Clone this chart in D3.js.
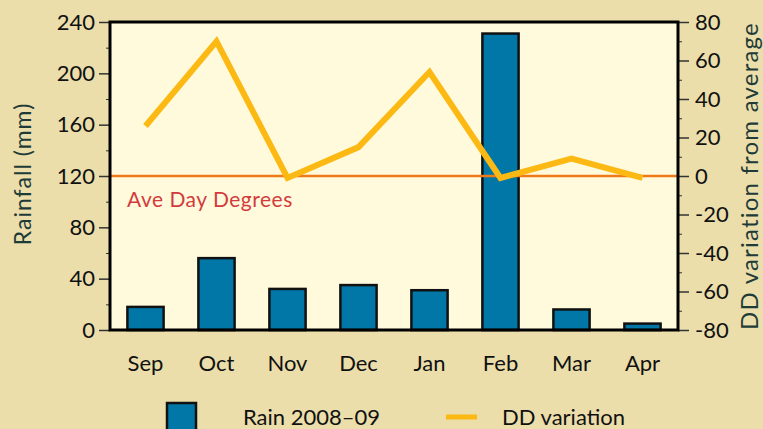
<!DOCTYPE html>
<html>
<head>
<meta charset="utf-8">
<script src="https://cdn.jsdelivr.net/npm/d3@7"></script>
<style>
  body { margin: 0; background: #ebdeaa; }
  svg { display: block; font-family: Lato, "Open Sans", sans-serif; }
</style>
</head>
<body>
<script>
const months = ["Sep", "Oct", "Nov", "Dec", "Jan", "Feb", "Mar", "Apr"];
const rain = [18, 56, 32, 35, 31, 231, 16, 5];
const ddVariation = [26, 70, -1, 15, 54, -1, 9, -1];
const rainTicks = [0, 40, 80, 120, 160, 200, 240];
const ddTicks = [-80, -60, -40, -20, 0, 20, 40, 60, 80];

const width = 763, height = 429;
const margin = {top: 22, right: 85, bottom: 99, left: 110};

const svg = d3.select("body").append("svg")
    .attr("width", width)
    .attr("height", height);

svg.append("rect").attr("width", width).attr("height", height).attr("fill", "#ebdeaa");

// title, mostly off the top edge
svg.append("text")
    .attr("x", 392).attr("y", -4)
    .attr("text-anchor", "middle")
    .attr("font-size", 22)
    .attr("fill", "#8c2f1f")
    .text("Monthly rainfall & growing days (mm), and DD variation from average (DD)");

const x = d3.scaleBand()
    .domain(months)
    .range([margin.left, width - margin.right])
    .paddingInner(0.49)
    .paddingOuter(0.245);

const yRain = d3.scaleLinear().domain([0, 240]).range([height - margin.bottom, margin.top]);
const yDD = d3.scaleLinear().domain([-80, 80]).range([height - margin.bottom, margin.top]);

svg.append("rect")
    .attr("x", margin.left).attr("y", margin.top)
    .attr("width", width - margin.left - margin.right)
    .attr("height", height - margin.top - margin.bottom)
    .attr("fill", "#fffadc");

// minor ticks
const minorLeft = d3.axisLeft(yRain).tickValues(d3.range(20, 240, 40)).tickSize(4).tickFormat("");
svg.append("g").attr("transform", `translate(${margin.left},0)`).call(minorLeft)
    .call(g => g.select(".domain").remove())
    .call(g => g.selectAll("line").attr("stroke", "#333"));

const minorRight = d3.axisRight(yDD).tickValues(d3.range(-70, 80, 20)).tickSize(4).tickFormat("");
svg.append("g").attr("transform", `translate(${width - margin.right},0)`).call(minorRight)
    .call(g => g.select(".domain").remove())
    .call(g => g.selectAll("line").attr("stroke", "#333"));

const leftAxis = svg.append("g")
    .attr("transform", `translate(${margin.left},0)`)
    .call(d3.axisLeft(yRain).tickValues(rainTicks).tickSize(11).tickPadding(4));

const rightAxis = svg.append("g")
    .attr("transform", `translate(${width - margin.right},0)`)
    .call(d3.axisRight(yDD).tickValues(ddTicks).tickSize(11).tickPadding(6).tickFormat(d => String(d)));

[leftAxis, rightAxis].forEach(g => {
    g.select(".domain").remove();
    g.selectAll("line").attr("stroke", "#333").attr("stroke-width", 1.5);
    g.selectAll("text").attr("font-size", 22).attr("fill", "#111").attr("font-family", "Lato, sans-serif");
});

// bars
svg.append("g").selectAll("rect")
    .data(months)
    .join("rect")
    .attr("x", d => x(d))
    .attr("y", (d, i) => yRain(rain[i]))
    .attr("width", x.bandwidth())
    .attr("height", (d, i) => yRain(0) - yRain(rain[i]))
    .attr("fill", "#0077a6")
    .attr("stroke", "#111")
    .attr("stroke-width", 2.5);

// average reference line
svg.append("line")
    .attr("x1", margin.left).attr("x2", width - margin.right)
    .attr("y1", yDD(0)).attr("y2", yDD(0))
    .attr("stroke", "#f07a18")
    .attr("stroke-width", 2.5);

svg.append("text")
    .attr("x", 127).attr("y", 207)
    .attr("font-size", 21)
    .attr("letter-spacing", 0.5)
    .attr("fill", "#d33a3c")
    .text("Ave Day Degrees");

const line = d3.line()
    .x((d, i) => x(months[i]) + x.bandwidth() / 2)
    .y(d => yDD(d));

svg.append("path")
    .datum(ddVariation)
    .attr("d", line)
    .attr("fill", "none")
    .attr("stroke", "#fdb913")
    .attr("stroke-width", 6);

// frame
svg.append("rect")
    .attr("x", margin.left).attr("y", margin.top)
    .attr("width", width - margin.left - margin.right)
    .attr("height", height - margin.top - margin.bottom)
    .attr("fill", "none")
    .attr("stroke", "#000")
    .attr("stroke-width", 3);

// month labels
svg.append("g").selectAll("text")
    .data(months)
    .join("text")
    .attr("x", d => x(d) + x.bandwidth() / 2)
    .attr("y", 371)
    .attr("text-anchor", "middle")
    .attr("font-size", 22)
    .attr("fill", "#111")
    .text(d => d);

// axis titles
svg.append("text")
    .attr("transform", "translate(31,174) rotate(-90)")
    .attr("text-anchor", "middle")
    .attr("font-size", 23)
    .attr("letter-spacing", 1)
    .attr("fill", "#1e3b38")
    .text("Rainfall (mm)");

svg.append("text")
    .attr("transform", "translate(758,330) rotate(-90)")
    .attr("text-anchor", "start")
    .attr("font-size", 24)
    .attr("letter-spacing", 1.2)
    .attr("fill", "#1e3b38")
    .text("DD variation from average");

// legend
svg.append("rect")
    .attr("x", 167).attr("y", 403)
    .attr("width", 29).attr("height", 32)
    .attr("fill", "#0077a6")
    .attr("stroke", "#111")
    .attr("stroke-width", 2.5);

svg.append("text")
    .attr("x", 243).attr("y", 425)
    .attr("font-size", 22)
    .attr("fill", "#111")
    .text("Rain 2008–09");

svg.append("line")
    .attr("x1", 446).attr("x2", 477)
    .attr("y1", 417).attr("y2", 417)
    .attr("stroke", "#fdb913")
    .attr("stroke-width", 5);

svg.append("text")
    .attr("x", 502).attr("y", 425)
    .attr("font-size", 22)
    .attr("fill", "#111")
    .text("DD variation");
</script>
</body>
</html>
